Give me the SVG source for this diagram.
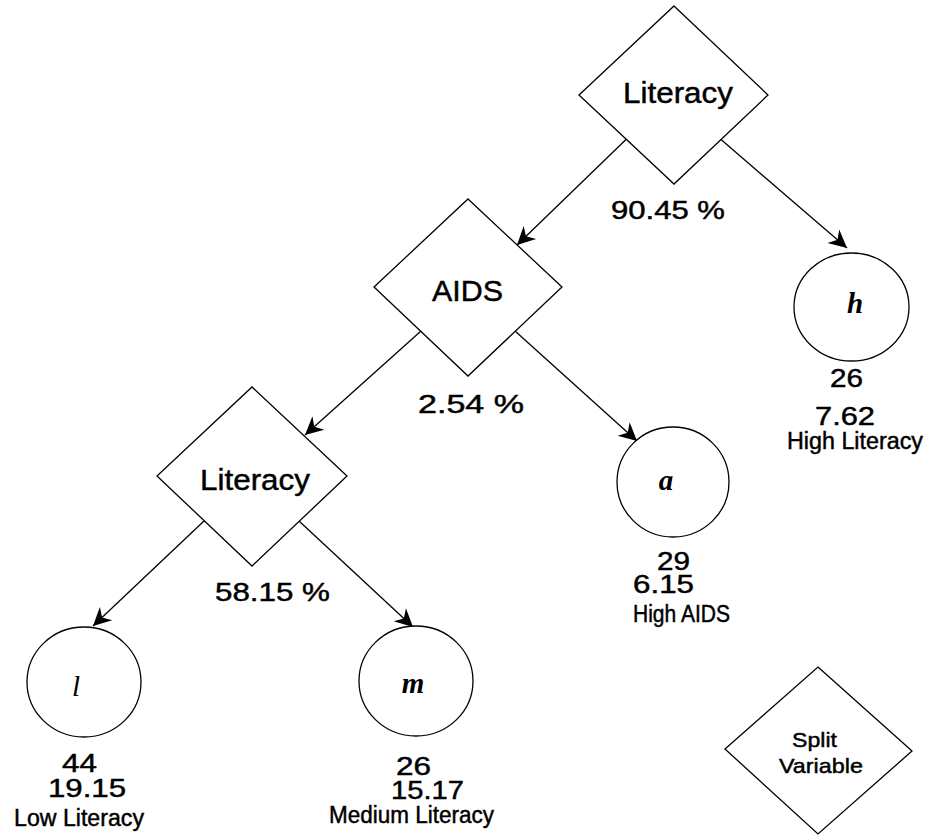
<svg xmlns="http://www.w3.org/2000/svg" width="932" height="835" viewBox="0 0 932 835">
<style>
.shape{fill:#fff;stroke:#000;stroke-width:1.3}
.edge{fill:none;stroke:#000;stroke-width:1.3}
.lbl,.num,.sm,.sv{font-family:"Liberation Sans",Arial,Helvetica,sans-serif;fill:#000;stroke:#000;stroke-width:0.45}
.lbl{font-size:29px}
.num{font-size:25px}
.sm{font-size:23px}
.sv{font-size:21px}
.var{font-family:"Liberation Serif","Times New Roman",serif;fill:#000;font-size:29px;font-style:italic;font-weight:bold;text-anchor:middle}
</style>
<defs>
<marker id="arr" markerUnits="userSpaceOnUse" markerWidth="22" markerHeight="22" viewBox="-20 -11 22 22" refX="0" refY="0" orient="auto">
<path d="M0,0 L-18,-9 L-12.5,0 L-18,9 Z" fill="#000"/>
</marker>
</defs>
<rect width="932" height="835" fill="#fff"/>
<g id="connectors">
<line class="edge" x1="626" y1="139.5" x2="517" y2="245" marker-end="url(#arr)"/>
<line class="edge" x1="721" y1="139.5" x2="847" y2="248" marker-end="url(#arr)"/>
<line class="edge" x1="421" y1="331" x2="305" y2="435" marker-end="url(#arr)"/>
<line class="edge" x1="515" y1="331" x2="637" y2="441" marker-end="url(#arr)"/>
<line class="edge" x1="204" y1="521" x2="93" y2="626" marker-end="url(#arr)"/>
<line class="edge" x1="299" y1="521" x2="413" y2="627" marker-end="url(#arr)"/>
</g>
<g id="split-literacy-top">
<polygon class="shape" points="674,6 768,95 674,184 579,95"/>
<text class="lbl" x="623" y="103" textLength="110" lengthAdjust="spacingAndGlyphs">Literacy</text>
<text class="num" x="611" y="219" textLength="114" lengthAdjust="spacingAndGlyphs">90.45 %</text>
</g>
<g id="split-aids">
<polygon class="shape" points="468,199 562,287 468,376 374,287"/>
<text class="lbl" x="432" y="301" textLength="71" lengthAdjust="spacingAndGlyphs">AIDS</text>
<text class="num" x="418" y="413" textLength="106" lengthAdjust="spacingAndGlyphs">2.54 %</text>
</g>
<g id="split-literacy-low">
<polygon class="shape" points="252,387 347,476 252,566 157,476"/>
<text class="lbl" x="200" y="490" textLength="110" lengthAdjust="spacingAndGlyphs">Literacy</text>
<text class="num" x="215" y="601" textLength="115" lengthAdjust="spacingAndGlyphs">58.15 %</text>
</g>
<g id="leaf-h">
<ellipse class="shape" cx="851.5" cy="307" rx="57.5" ry="54"/>
<text class="var" x="855" y="313">h</text>
<text class="num" x="830" y="387" textLength="33" lengthAdjust="spacingAndGlyphs">26</text>
<text class="num" x="815" y="425" textLength="60" lengthAdjust="spacingAndGlyphs">7.62</text>
<text class="sm" x="787" y="449" textLength="136" lengthAdjust="spacingAndGlyphs">High Literacy</text>
</g>
<g id="leaf-a">
<ellipse class="shape" cx="673" cy="482" rx="56" ry="55"/>
<text class="var" x="666" y="490">a</text>
<text class="num" x="657" y="570" textLength="33" lengthAdjust="spacingAndGlyphs">29</text>
<text class="num" x="633" y="593" textLength="61" lengthAdjust="spacingAndGlyphs">6.15</text>
<text class="sm" x="633" y="622" textLength="97" lengthAdjust="spacingAndGlyphs">High AIDS</text>
</g>
<g id="leaf-l">
<ellipse class="shape" cx="84" cy="682" rx="57" ry="55"/>
<text class="var" x="76" y="696" style="font-weight:normal">l</text>
<text class="num" x="62" y="772" textLength="35" lengthAdjust="spacingAndGlyphs">44</text>
<text class="num" x="48" y="797" textLength="78" lengthAdjust="spacingAndGlyphs">19.15</text>
<text class="sm" x="14" y="826" textLength="130" lengthAdjust="spacingAndGlyphs">Low Literacy</text>
</g>
<g id="leaf-m">
<ellipse class="shape" cx="416" cy="681" rx="57" ry="55"/>
<text class="var" x="413" y="693">m</text>
<text class="num" x="396" y="775" textLength="35" lengthAdjust="spacingAndGlyphs">26</text>
<text class="num" x="391" y="799" textLength="73" lengthAdjust="spacingAndGlyphs">15.17</text>
<text class="sm" x="329" y="823" textLength="165" lengthAdjust="spacingAndGlyphs">Medium Literacy</text>
</g>
<g id="legend-split-variable">
<polygon class="shape" points="818,667 912,751 818,834 725,749"/>
<text class="sv" x="792" y="747" textLength="45" lengthAdjust="spacingAndGlyphs">Split</text>
<text class="sv" x="779" y="773" textLength="84" lengthAdjust="spacingAndGlyphs">Variable</text>
</g>
</svg>
